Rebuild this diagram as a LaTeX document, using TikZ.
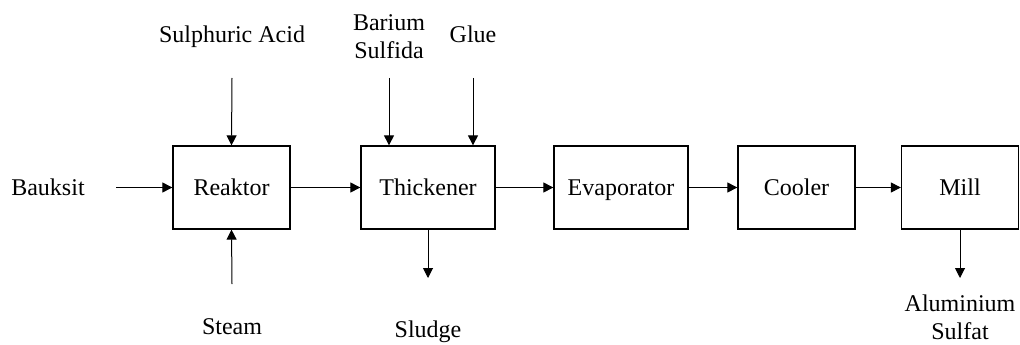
\documentclass[tikz,border=0pt]{standalone}
\usepackage{fontspec}
\setmainfont{Liberation Serif}
\usepackage{tikz}
\usetikzlibrary{positioning,arrows.meta}

\begin{document}
\begin{tikzpicture}[
  x=1pt, y=-1pt,
  font=\fontsize{24}{28}\selectfont,
  unit/.style ={draw=black, line width=1.3pt, minimum height=83pt,
                text height=16pt, text depth=0pt, inner sep=0pt},
  lbl/.style  ={anchor=base, align=center, inner sep=0pt},
  ar/.style   ={-{Triangle[length=10pt,width=10pt]}, line width=1pt, draw=black},
]
\useasboundingbox (0,0) rectangle (1020,345);

% ---- process units ----
\node[unit, minimum width=117pt] (reak) at (231.5,187.5) {Reaktor};
\node[unit, minimum width=134pt] (thk)  at (428,187.5)   {Thickener};
\node[unit, minimum width=134pt] (evap) at (621,187.5)   {Evaporator};
\node[unit, minimum width=117pt] (cool) at (796.5,187.5) {Cooler};
\node[unit, minimum width=117pt] (mill) at (960,187.5)   {Mill};

% ---- streams in / out ----
\node[lbl] (baux)  at (48,195)   {Bauksit};
\node[lbl] (acid)  at (232,43)   {Sulphuric Acid};
\node[lbl] (steam) at (232,334)  {Steam};
\node[lbl] (bas)   at (389,59)   {Barium\\ Sulfida};
\node[lbl] (glue)  at (473,43)   {Glue};
\node[lbl] (slud)  at (428,337)  {Sludge};
\node[lbl] (alsf)  at (960,339)  {Aluminium\\ Sulfat};

\coordinate (bauxE)  at (116,187.5);
\coordinate (acidS)  at (232,78);
\coordinate (steamN) at (232,284);
\coordinate (basS)   at (389,78);
\coordinate (glueS)  at (473,78);
\coordinate (sludN)  at (428,278);
\coordinate (alsfN)  at (960,278);

% ---- edges ----
\draw[ar] (bauxE) -- (reak);
\draw[ar] (acidS) -- (reak.north);
\draw[ar] (steamN) -- (reak.south);
\draw[ar] (reak) -- (thk);
\draw[ar] (basS) -- (basS |- thk.north);
\draw[ar] (glueS) -- (glueS |- thk.north);
\draw[ar] (thk.south) -- (sludN);
\draw[ar] (thk) -- (evap);
\draw[ar] (evap) -- (cool);
\draw[ar] (cool) -- (mill);
\draw[ar] (mill.south) -- (alsfN);
\end{tikzpicture}
\end{document}
